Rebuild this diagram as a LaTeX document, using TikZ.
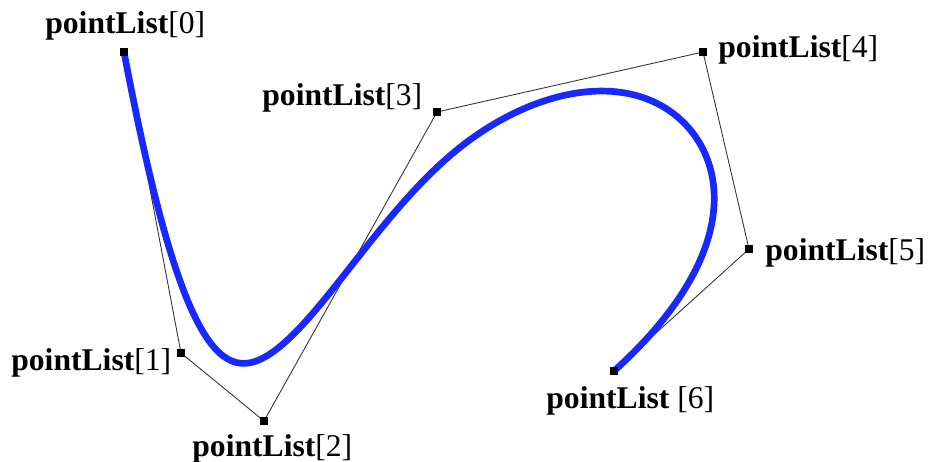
\documentclass[tikz,border=0pt]{standalone}
\usepackage{fontspec}
\setmainfont{Liberation Serif}
\usetikzlibrary{calc}
\definecolor{splineblue}{RGB}{24,40,255}
\tikzset{
	ctrl/.style={fill=black, minimum size=4.8pt, inner sep=0pt},
	tag/.style={font=\fontsize{18}{21}\selectfont, inner sep=0pt, anchor=base west},
	hull/.style={draw=black!80, line width=0.5pt},
	spline/.style={draw=splineblue, line width=3.8pt, line join=round}
}
\newcommand{\pl}[1]{\textbf{pointList}[#1]}

\begin{document}
\begin{tikzpicture}[x=0.02cm, y=-0.02cm]
	\useasboundingbox (0,0) rectangle (929,461);
	% control points
	\coordinate (p0) at (124,52);
	\coordinate (p1) at (181,353);
	\coordinate (p2) at (264,421);
	\coordinate (p3) at (437,112);
	\coordinate (p4) at (703,52);
	\coordinate (p5) at (749,249);
	\coordinate (p6) at (614,371);
	% control polygon
	\draw[hull] (p0) -- (p1) -- (p2) -- (p3) -- (p4) -- (p5) -- (p6);
	% clamped cubic B-spline, as four Bezier pieces
	\draw[spline] (p0)
		.. controls (p1) and ($(p1)!0.5!(p2)$)
		.. ($0.25*(p1)+0.58333*(p2)+0.16667*(p3)$)
		.. controls ($(p2)!0.33333!(p3)$) and ($(p2)!0.66667!(p3)$)
		.. ($0.16667*(p2)+0.66667*(p3)+0.16667*(p4)$)
		.. controls ($(p3)!0.33333!(p4)$) and ($(p3)!0.66667!(p4)$)
		.. ($0.16667*(p3)+0.58333*(p4)+0.25*(p5)$)
		.. controls ($(p4)!0.5!(p5)$) and (p5)
		.. (p6);
	% markers
	\foreach \i in {0,...,6}
		\node[ctrl] (m\i) at (p\i) {};
	% labels
	\node[tag] (l0) at (45,33) {\pl{0}};
	\node[tag] (l1) at (11,370) {\pl{1}};
	\node[tag] (l2) at (192,456) {\pl{2}};
	\node[tag] (l3) at (262,105) {\pl{3}};
	\node[tag] (l4) at (718,57) {\pl{4}};
	\node[tag] (l5) at (765,260) {\pl{5}};
	\node[tag] (l6) at (546,408) {\textbf{pointList} [6]};
\end{tikzpicture}
\end{document}
